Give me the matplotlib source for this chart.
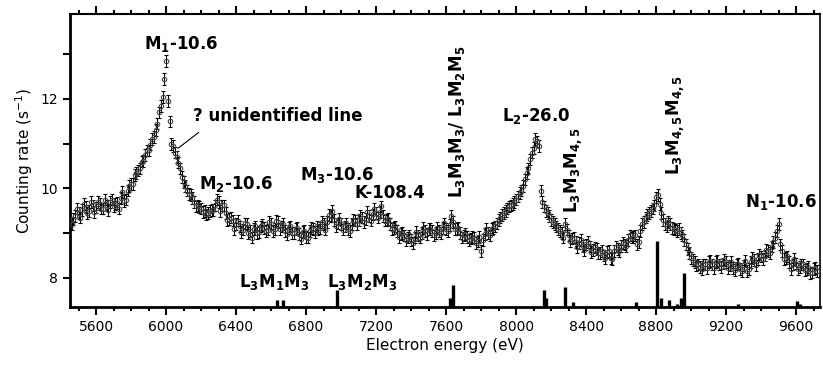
import numpy as np
import matplotlib
matplotlib.use("Agg")
import matplotlib.pyplot as plt
from matplotlib.ticker import MultipleLocator, FixedLocator

# measured spectrum, first pass (eV, counts/s)
energy = [
    5460, 5480, 5500, 5520, 5540, 5560, 5580, 5600, 5620, 5640,
    5660, 5680, 5700, 5720, 5740, 5760, 5780, 5800, 5820, 5840,
    5860, 5880, 5900, 5920, 5940, 5960, 5980, 6000, 6020, 6040,
    6060, 6080, 6100, 6120, 6140, 6160, 6180, 6200, 6220, 6240,
    6260, 6280, 6300, 6320, 6340, 6360, 6380, 6400, 6420, 6440,
    6460, 6480, 6500, 6520, 6540, 6560, 6580, 6600, 6620, 6640,
    6660, 6680, 6700, 6720, 6740, 6760, 6780, 6800, 6820, 6840,
    6860, 6880, 6900, 6920, 6940, 6960, 6980, 7000, 7020, 7040,
    7060, 7080, 7100, 7120, 7140, 7160, 7180, 7200, 7220, 7240,
    7260, 7280, 7300, 7320, 7340, 7360, 7380, 7400, 7420, 7440,
    7460, 7480, 7500, 7520, 7540, 7560, 7580, 7600, 7620, 7640,
    7660, 7680, 7700, 7720, 7740, 7760, 7780, 7800, 7820, 7840,
    7860, 7880, 7900, 7920, 7940, 7960, 7980, 8000, 8020, 8040,
    8060, 8080, 8100, 8120, 8140, 8160, 8180, 8200, 8220, 8240,
    8260, 8280, 8300, 8320, 8340, 8360, 8380, 8400, 8420, 8440,
    8460, 8480, 8500, 8520, 8540, 8560, 8580, 8600, 8620, 8640,
    8660, 8680, 8700, 8720, 8740, 8760, 8780, 8800, 8820, 8840,
    8860, 8880, 8900, 8920, 8940, 8960, 8980, 9000, 9020, 9040,
    9060, 9080, 9100, 9120, 9140, 9160, 9180, 9200, 9220, 9240,
    9260, 9280, 9300, 9320, 9340, 9360, 9380, 9400, 9420, 9440,
    9460, 9480, 9500, 9520, 9540, 9560, 9580, 9600, 9620, 9640,
    9660, 9680, 9700, 9720,
]
rate = [
    9.20, 9.38, 9.45, 9.52, 9.58, 9.50, 9.62, 9.57, 9.65, 9.55,
    9.62, 9.70, 9.60, 9.68, 9.78, 9.72, 9.95, 10.10, 10.30, 10.40,
    10.60, 10.75, 10.85, 11.10, 11.30, 11.70, 12.05, 12.85, 11.50, 10.95,
    10.70, 10.45, 10.15, 9.95, 9.85, 9.70, 9.62, 9.55, 9.50, 9.45,
    9.52, 9.62, 9.70, 9.62, 9.45, 9.32, 9.28, 9.20, 9.15, 9.08,
    9.20, 9.05, 9.10, 9.00, 9.15, 9.12, 9.08, 9.20, 9.10, 9.25,
    9.15, 9.05, 9.12, 9.00, 9.10, 8.98, 9.02, 8.92, 9.05, 9.10,
    9.15, 9.12, 9.20, 9.25, 9.38, 9.30, 9.22, 9.20, 9.15, 9.10,
    9.20, 9.28, 9.30, 9.35, 9.32, 9.38, 9.42, 9.45, 9.48, 9.38,
    9.30, 9.20, 9.12, 9.05, 8.98, 8.95, 8.90, 8.85, 8.90, 8.95,
    9.00, 9.05, 9.10, 9.05, 9.00, 9.05, 9.12, 9.10, 9.18, 9.25,
    9.10, 9.00, 8.95, 8.92, 8.88, 8.90, 8.82, 8.60, 8.98, 9.00,
    9.10, 9.15, 9.30, 9.40, 9.50, 9.60, 9.65, 9.75, 9.90, 10.05,
    10.35, 10.65, 10.90, 11.05, 9.95, 9.60, 9.45, 9.30, 9.20, 9.10,
    9.00, 9.20, 8.95, 8.88, 8.80, 8.78, 8.72, 8.75, 8.70, 8.62,
    8.65, 8.55, 8.50, 8.58, 8.45, 8.60, 8.65, 8.72, 8.75, 8.85,
    8.90, 8.95, 8.80, 9.20, 9.35, 9.45, 9.55, 9.80, 9.65, 9.30,
    9.15, 9.20, 9.10, 9.05, 9.00, 8.85, 8.65, 8.45, 8.35, 8.30,
    8.20, 8.30, 8.35, 8.30, 8.35, 8.30, 8.32, 8.35, 8.28, 8.22,
    8.30, 8.20, 8.28, 8.15, 8.35, 8.40, 8.42, 8.48, 8.50, 8.60,
    8.70, 8.90, 9.20, 8.60, 8.45, 8.35, 8.30, 8.32, 8.25, 8.30,
    8.20, 8.10, 8.20, 8.15,
]

# second pass, shifted by 10 eV
energy2 = [
    5470, 5490, 5510, 5530, 5550, 5570, 5590, 5610, 5630, 5650,
    5670, 5690, 5710, 5730, 5750, 5770, 5790, 5810, 5830, 5850,
    5870, 5890, 5910, 5930, 5950, 5970, 5990, 6010, 6030, 6050,
    6070, 6090, 6110, 6130, 6150, 6170, 6190, 6210, 6230, 6250,
    6270, 6290, 6310, 6330, 6350, 6370, 6390, 6410, 6430, 6450,
    6470, 6490, 6510, 6530, 6550, 6570, 6590, 6610, 6630, 6650,
    6670, 6690, 6710, 6730, 6750, 6770, 6790, 6810, 6830, 6850,
    6870, 6890, 6910, 6930, 6950, 6970, 6990, 7010, 7030, 7050,
    7070, 7090, 7110, 7130, 7150, 7170, 7190, 7210, 7230, 7250,
    7270, 7290, 7310, 7330, 7350, 7370, 7390, 7410, 7430, 7450,
    7470, 7490, 7510, 7530, 7550, 7570, 7590, 7610, 7630, 7650,
    7670, 7690, 7710, 7730, 7750, 7770, 7790, 7810, 7830, 7850,
    7870, 7890, 7910, 7930, 7950, 7970, 7990, 8010, 8030, 8050,
    8070, 8090, 8110, 8130, 8150, 8170, 8190, 8210, 8230, 8250,
    8270, 8290, 8310, 8330, 8350, 8370, 8390, 8410, 8430, 8450,
    8470, 8490, 8510, 8530, 8550, 8570, 8590, 8610, 8630, 8650,
    8670, 8690, 8710, 8730, 8750, 8770, 8790, 8810, 8830, 8850,
    8870, 8890, 8910, 8930, 8950, 8970, 8990, 9010, 9030, 9050,
    9070, 9090, 9110, 9130, 9150, 9170, 9190, 9210, 9230, 9250,
    9270, 9290, 9310, 9330, 9350, 9370, 9390, 9410, 9430, 9450,
    9470, 9490, 9510, 9530, 9550, 9570, 9590, 9610, 9630, 9650,
    9670, 9690, 9710,
]
rate2 = [
    9.32, 9.55, 9.35, 9.65, 9.45, 9.70, 9.48, 9.70, 9.55, 9.75,
    9.52, 9.75, 9.65, 9.55, 9.92, 9.75, 10.05, 10.10, 10.35, 10.45,
    10.62, 10.85, 10.98, 11.15, 11.45, 11.85, 12.45, 11.95, 11.00, 10.80,
    10.58, 10.25, 10.05, 9.88, 9.78, 9.60, 9.58, 9.48, 9.42, 9.50,
    9.52, 9.75, 9.50, 9.62, 9.30, 9.35, 9.10, 9.28, 9.02, 9.22,
    9.00, 8.90, 9.15, 9.02, 9.18, 9.05, 9.25, 9.05, 9.28, 9.10,
    9.20, 8.98, 9.15, 9.00, 9.12, 8.88, 9.05, 8.90, 9.12, 9.02,
    9.08, 9.25, 9.08, 9.40, 9.50, 9.15, 9.32, 9.08, 9.22, 9.05,
    9.30, 9.20, 9.38, 9.25, 9.48, 9.28, 9.55, 9.35, 9.60, 9.28,
    9.32, 9.10, 9.15, 8.92, 9.00, 8.85, 8.95, 8.78, 9.02, 8.90,
    9.12, 8.98, 9.10, 8.95, 9.12, 9.00, 9.22, 9.05, 9.38, 9.10,
    9.12, 8.90, 8.98, 8.85, 8.92, 8.78, 8.92, 8.85, 9.10, 8.95,
    9.12, 9.22, 9.35, 9.45, 9.55, 9.62, 9.70, 9.82, 9.95, 10.20,
    10.45, 10.80, 11.10, 10.95, 9.70, 9.50, 9.38, 9.25, 9.15, 9.05,
    8.90, 9.08, 8.82, 8.90, 8.68, 8.85, 8.62, 8.80, 8.58, 8.68,
    8.55, 8.60, 8.45, 8.60, 8.42, 8.70, 8.60, 8.78, 8.72, 8.95,
    8.92, 8.75, 9.05, 9.25, 9.40, 9.50, 9.62, 9.85, 9.45, 9.20,
    9.25, 9.12, 9.08, 9.10, 8.95, 8.75, 8.55, 8.40, 8.28, 8.25,
    8.30, 8.22, 8.38, 8.22, 8.38, 8.25, 8.40, 8.22, 8.35, 8.18,
    8.32, 8.15, 8.38, 8.20, 8.45, 8.28, 8.52, 8.42, 8.62, 8.55,
    8.80, 9.05, 8.75, 8.42, 8.48, 8.20, 8.42, 8.20, 8.30, 8.18,
    8.25, 8.12, 8.22,
]
rate_err = 0.13

# calculated Auger line positions (stick spectrum)
stick_energy = [6632, 6669, 6979, 7625, 7642, 8160, 8170, 8280, 8324, 8686,
                8804, 8826, 8874, 8918, 8943, 8960, 9269, 9604, 9620]
stick_top = [7.50, 7.50, 7.72, 7.54, 7.83, 7.74, 7.55, 7.80, 7.45, 7.45,
             8.82, 7.55, 7.50, 7.42, 7.55, 8.11, 7.42, 7.48, 7.42]
y_floor = 7.35

fig = plt.figure(figsize=(8.23, 3.65), dpi=100)
ax = fig.add_axes([0.085, 0.159, 0.9115, 0.8026])

for e, r in [(energy, rate), (energy2, rate2)]:
    ax.errorbar(e, r, yerr=rate_err, fmt='o', ms=3.2, mfc='none',
                mec='#444444', mew=0.8, ecolor='black', elinewidth=0.75,
                capsize=1.5, capthick=0.75, zorder=3)
ax.vlines(stick_energy, y_floor, stick_top, colors='black', lw=2.4, zorder=2)

ax.set_xlim(5451, 9737)
ax.set_ylim(7.35, 13.9)

ax.xaxis.set_major_locator(MultipleLocator(400))
ax.xaxis.set_minor_locator(MultipleLocator(100))
ax.yaxis.set_major_locator(FixedLocator([8, 10, 12]))
ax.yaxis.set_minor_locator(FixedLocator([9, 11, 13]))
ax.tick_params(axis='x', which='both', top=True, direction='out', width=1.5)
ax.tick_params(axis='x', which='major', length=6, labelsize=10)
ax.tick_params(axis='x', which='minor', length=3)
ax.tick_params(axis='y', which='both', length=5, width=1.5, labelsize=10,
               right=False)
for side in ['left', 'bottom']:
    ax.spines[side].set_linewidth(2)
ax.spines['top'].set_linewidth(1.5)
ax.spines['right'].set_linewidth(1.2)

ax.set_xlabel('Electron energy (eV)', fontsize=11, labelpad=3)
ax.set_ylabel('Counting rate (s$^{-1}$)', fontsize=11, labelpad=4)

lab = dict(fontsize=12, fontweight='bold', ha='center', va='center')
ax.text(6086, 13.24, r'$\mathbf{M_1}$-10.6', **lab)
ax.text(6640, 11.63, '? unidentified line', **lab)
ax.plot([6186, 6069], [11.25, 10.9], color='black', lw=0.8)
ax.text(6400, 10.1, r'$\mathbf{M_2}$-10.6', **lab)
ax.text(6977, 10.29, r'$\mathbf{M_3}$-10.6', **lab)
ax.text(7280, 9.89, 'K-108.4', **lab)
ax.text(8114, 11.63, r'$\mathbf{L_2}$-26.0', **lab)
ax.text(9514, 9.69, r'$\mathbf{N_1}$-10.6', **lab)
ax.text(6617, 7.9, r'$\mathbf{L_3M_1M_3}$', **lab)
ax.text(7120, 7.9, r'$\mathbf{L_3M_2M_3}$', **lab)

rot = dict(fontsize=12, fontweight='bold', ha='center', va='bottom',
           rotation=90)
ax.text(7663, 9.78, r'$\mathbf{L_3M_3M_3}$/ $\mathbf{L_3M_2M_5}$', **rot)
ax.text(8326, 9.46, r'$\mathbf{L_3M_3M_{4,5}}$', **rot)
ax.text(8909, 10.29, r'$\mathbf{L_3M_{4,5}M_{4,5}}$', **rot)

fig.savefig('out.png', dpi=100)
